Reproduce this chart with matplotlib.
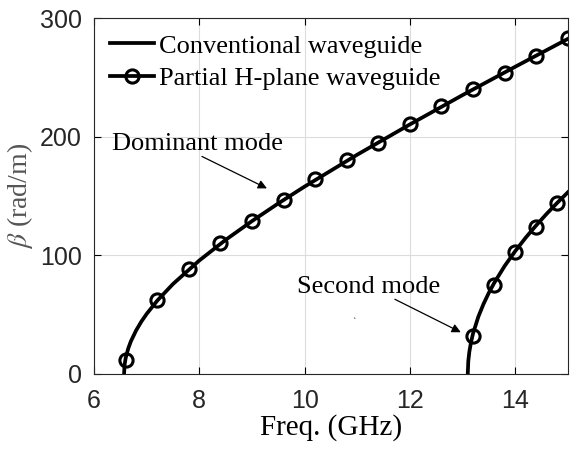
import numpy as np
import matplotlib.pyplot as plt

plt.rcParams['mathtext.fontset'] = 'stix'

# dominant mode, conventional waveguide (solid line)
f1 = [6.57, 6.58, 6.60, 6.65, 6.70, 6.80, 6.90, 7.0, 7.2, 7.5, 8.0, 8.5,
      9.0, 9.5, 10.0, 11.0, 12.0, 13.0, 14.0, 15.0]
b1 = [0, 7.6, 13.2, 21.5, 27.5, 36.7, 44.2, 50.6, 61.7, 75.8, 95.6, 113.0,
      128.8, 143.7, 157.9, 184.8, 210.3, 235.0, 258.9, 282.4]

# second mode, conventional waveguide
f2 = [13.10, 13.11, 13.13, 13.16, 13.2, 13.3, 13.4, 13.5, 13.6, 13.8,
      14.0, 14.2, 14.4, 14.6, 14.8, 15.0]
b2 = [0, 10.7, 18.6, 26.3, 34.0, 48.1, 59.0, 68.3, 76.5, 90.9,
      103.4, 114.8, 125.2, 135.0, 144.2, 153.0]

# partial H-plane waveguide (markers)
fm1 = [6.6, 7.2, 7.8, 8.4, 9.0, 9.6, 10.2, 10.8, 11.4, 12.0, 12.6, 13.2, 13.8, 14.4, 15.0]
bm1 = [12, 62, 88, 110, 129, 147, 164, 180, 195, 211, 226, 240, 254, 268, 283]
fm2 = [13.2, 13.6, 14.0, 14.4, 14.8]
bm2 = [32, 75, 103, 124, 144]

fig = plt.figure(figsize=(5.77, 4.51), dpi=100)
ax = fig.add_axes([0.163, 0.171, 0.821, 0.789])

lw = 2.7
mk = dict(marker='o', color='k', mfc='none', mew=2.2, ms=9.5)
ax.plot(f1, b1, 'k-', lw=lw, label="Conventional waveguide")
ax.plot(f2, b2, 'k-', lw=lw)
ax.plot(fm1, bm1, ls='none', **mk)
ax.plot(fm2, bm2, ls='none', **mk)
ax.plot([], [], ls='-', lw=lw, label="Partial H-plane waveguide", **mk)

ax.set_xlim(6, 15)
ax.set_ylim(0, 300)
ax.set_xticks([6, 8, 10, 12, 14])
ax.set_yticks([0, 100, 200, 300])
ax.grid(True, color='#dcdcdc', lw=0.8)
ax.set_axisbelow(True)
ax.tick_params(direction='in', top=True, right=True, length=5, width=0.8,
               labelsize=18, labelcolor='#262626')
ax.tick_params(axis='x', pad=11)
ax.tick_params(axis='y', pad=9)
for lab in ax.get_xticklabels() + ax.get_yticklabels():
    lab.set_fontfamily('Liberation Sans')
for s in ax.spines.values():
    s.set_color('#262626')
    s.set_linewidth(0.8)

serif = 'Liberation Serif'
ax.set_xlabel("Freq. (GHz)", fontfamily=serif, fontsize=21, labelpad=1)
ax.set_ylabel(r"$\beta$ (rad/m)", fontfamily=serif, fontsize=20, color='#555555',
              labelpad=3)

ax.legend(loc='upper left', frameon=False, prop={'family': serif, 'size': 19},
          handlelength=1.65, handletextpad=0.2, labelspacing=0.36,
          borderaxespad=0, borderpad=0, bbox_to_anchor=(0.034, 0.955))

arrow = dict(arrowstyle='-|>', color='k', lw=0.9, mutation_scale=13,
             shrinkA=0, shrinkB=0)
ax.annotate("", xy=(9.285, 156.4), xytext=(8.05, 183.3), arrowprops=arrow)
ax.annotate("", xy=(12.968, 35.1), xytext=(11.715, 62.9), arrowprops=arrow)
ax.text(6.34, 194, "Dominant mode", fontfamily=serif, fontsize=19, va='center')
ax.text(9.855, 73, "Second mode", fontfamily=serif, fontsize=19, va='center')
ax.text(10.94, 43.6, "`", fontsize=6, ha='center', va='center')

fig.savefig("out.png", dpi=100)
